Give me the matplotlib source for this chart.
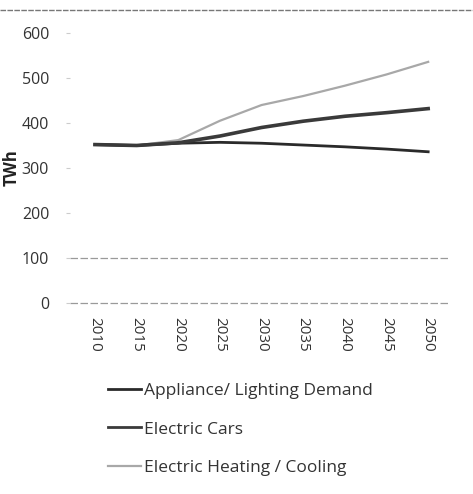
import numpy as np
import matplotlib
matplotlib.use("Agg")
import matplotlib.pyplot as plt
from matplotlib.lines import Line2D

# --- data (TWh) ---
years = [2010, 2015, 2020, 2025, 2030, 2035, 2040, 2045, 2050]
appliance = [352, 350, 355, 357, 355, 351, 347, 342, 336]
cars = [352, 350, 356, 371, 390, 404, 415, 423, 432]
heating = [352, 350, 362, 405, 440, 460, 483, 508, 536]
yticks = [0, 100, 200, 300, 400, 500, 600]

plt.rcParams["font.family"] = ["Open Sans", "DejaVu Sans"]

fig = plt.figure(figsize=(4.73, 4.94), dpi=100)
ax = fig.add_axes([0.148, 0.387, 0.803, 0.546])

# faint gridlines (only the lower ones survived the scan)
for g in [0, 100]:
    ax.axhline(g, color="#9a9a9a", linewidth=0.9, linestyle=(0, (6, 2)),
               zorder=1, clip_on=False)

ax.plot(years, appliance, color="#2a2a2a", linewidth=2.0, zorder=3)
ax.plot(years, cars, color="#3a3a3a", linewidth=2.6, zorder=3)
ax.plot(years, heating, color="#a8a8a8", linewidth=1.6, zorder=2)

ax.set_xlim(2007, 2052.6)
ax.set_ylim(0, 600)
ax.set_yticks(yticks)
ax.set_xticks(years)
ax.set_xticklabels([str(y) for y in years], rotation=270, fontsize=11, color="#333333")
ax.set_yticklabels([str(v) for v in yticks], fontsize=11.5, color="#333333")
ax.tick_params(axis="y", length=3, color="#cccccc", pad=12)
ax.tick_params(axis="x", length=0, pad=10)
for s in ax.spines.values():
    s.set_visible(False)

ax.set_ylabel("TWh", fontsize=12, fontweight="bold", color="#222222", labelpad=1)

# top border line from the scan
fig.add_artist(Line2D([0.0, 1.0], [0.98, 0.98], color="#777777", linewidth=1.0,
                      linestyle=(0, (4, 1))))

handles = [
    Line2D([], [], color="#2a2a2a", linewidth=2.0),
    Line2D([], [], color="#3a3a3a", linewidth=2.0),
    Line2D([], [], color="#a8a8a8", linewidth=1.6),
]
labels = ["Appliance/ Lighting Demand", "Electric Cars", "Electric Heating / Cooling"]
fig.legend(handles, labels, loc="upper left", bbox_to_anchor=(0.195, 0.257),
           frameon=False, fontsize=12.5, handlelength=1.9, handletextpad=0.2,
           labelspacing=1.3, labelcolor="#333333")

fig.savefig("out.png", dpi=100)
